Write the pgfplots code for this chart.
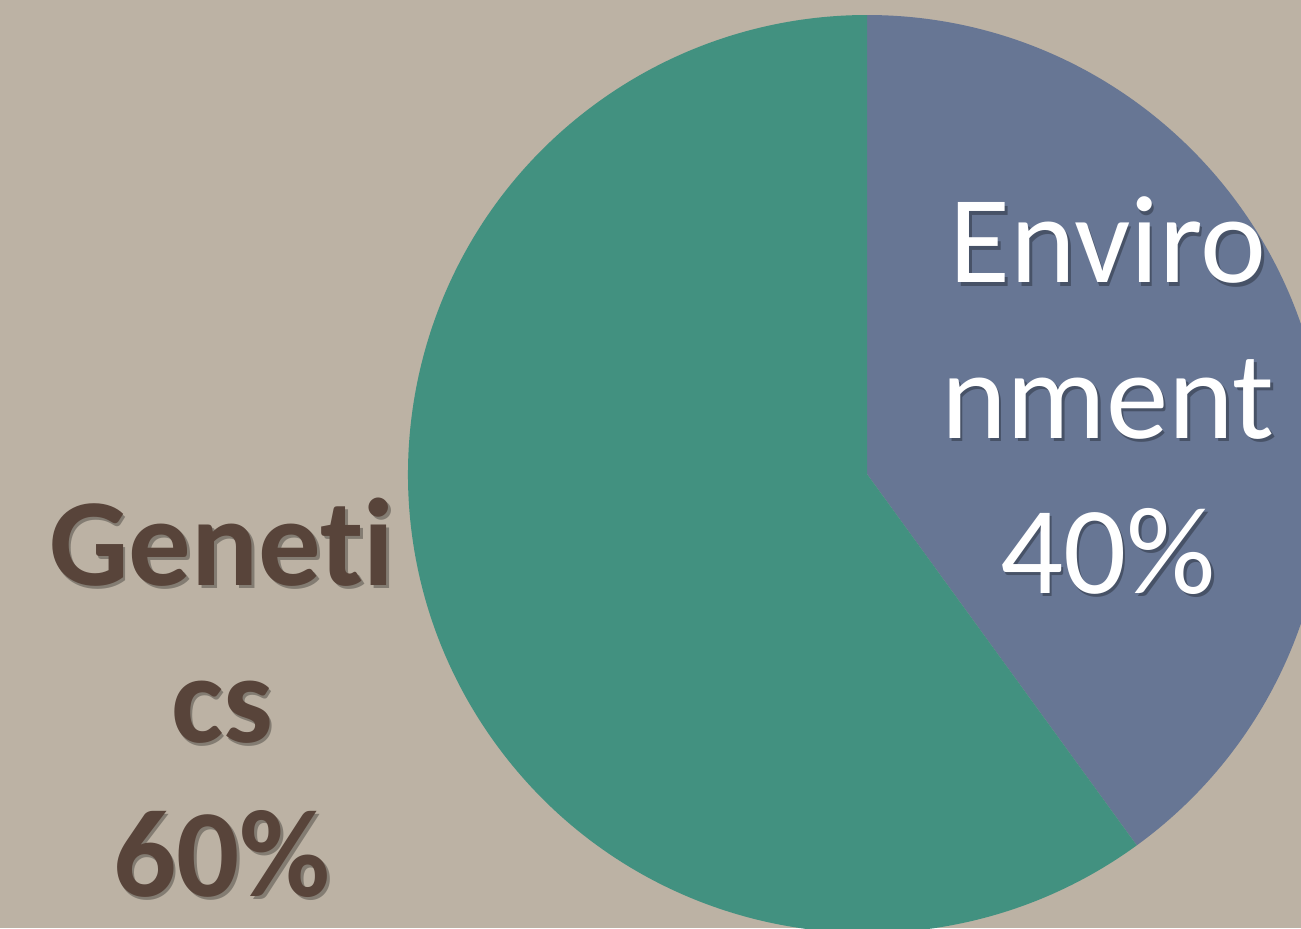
\documentclass[border=0pt]{standalone}
\usepackage{pgfplots}
\pgfplotsset{compat=1.18}
\usepackage{pgfplotstable}
\usepackage{fontspec}
\setmainfont{Carlito}[Ligatures=NoCommon]
\definecolor{bg}{RGB}{188,178,164}
\definecolor{envcol}{RGB}{103,118,148}
\definecolor{gencol}{RGB}{66,145,128}
\definecolor{gentext}{RGB}{88,68,58}

\pgfplotstableread{
label value
Genetics 60
Environment 40
}\piedata

\tikzset{
  shad/.style={anchor=base,text=black,opacity=0.3,font=\fontsize{35.5}{44}\selectfont},
  envlab/.style={anchor=base,text=white,font=\fontsize{35.5}{44}\selectfont},
  genshad/.style={anchor=base,text=black,opacity=0.3,font=\fontsize{35.5}{44}\selectfont\bfseries},
  genlab/.style={anchor=base,text=gentext,font=\fontsize{35.5}{44}\selectfont\bfseries},
}

\begin{document}
\begin{tikzpicture}
\pgfplotstablegetelem{0}{value}\of\piedata \let\vgen\pgfplotsretval
\pgfplotstablegetelem{1}{value}\of\piedata \let\venv\pgfplotsretval
\pgfmathsetmacro{\envend}{90-3.6*\venv}
\pgfmathsetmacro{\genend}{\envend-3.6*\vgen}
\begin{axis}[width=13.01cm,height=9.28cm,scale only axis,
  xmin=0,xmax=1301,ymin=0,ymax=928,axis lines=none,clip=true,
  axis background/.style={fill=bg}]
\fill[envcol] (axis cs:867,454) -- ++(90:4.59cm) arc[start angle=90,end angle=\envend,radius=4.59cm] -- cycle;
\fill[gencol] (axis cs:867,454) -- ++(\envend:4.59cm) arc[start angle=\envend,end angle=\genend,radius=4.59cm] -- cycle;
% Environment label
\node[shad] at ([xshift=0.25mm,yshift=-0.35mm]axis cs:1108,645) {Enviro};
\node[envlab] at (axis cs:1108,645) {Enviro};
\node[shad] at ([xshift=0.25mm,yshift=-0.35mm]axis cs:1108,490) {nment};
\node[envlab] at (axis cs:1108,490) {nment};
\node[shad] at ([xshift=0.25mm,yshift=-0.35mm]axis cs:1108,335) {40\%};
\node[envlab] at (axis cs:1108,335) {40\%};
% Genetics label
\node[genshad] at ([xshift=0.25mm,yshift=-0.35mm]axis cs:222,343) {Geneti};
\node[genlab] at (axis cs:222,343) {Geneti};
\node[genshad] at ([xshift=0.25mm,yshift=-0.35mm]axis cs:222,186) {cs};
\node[genlab] at (axis cs:222,186) {cs};
\node[genshad] at ([xshift=0.25mm,yshift=-0.35mm]axis cs:222,32) {60\%};
\node[genlab] at (axis cs:222,32) {60\%};
\end{axis}
\pgfresetboundingbox
\path[use as bounding box] (current axis.south west) rectangle (current axis.north east);
\end{tikzpicture}
\end{document}
